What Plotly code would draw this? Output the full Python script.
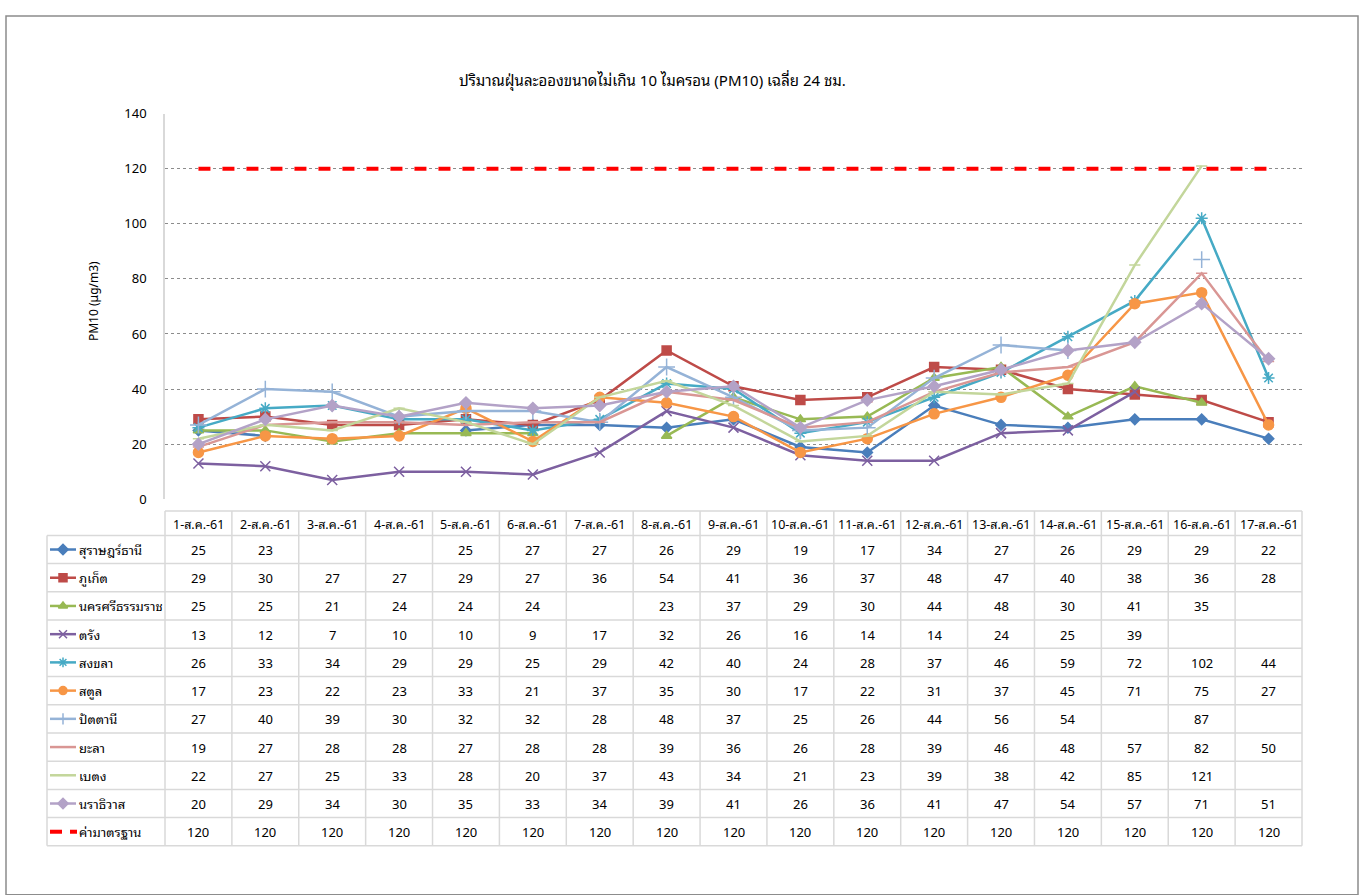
import plotly.graph_objects as go

days = ["1-ส.ค.-61", "2-ส.ค.-61", "3-ส.ค.-61", "4-ส.ค.-61", "5-ส.ค.-61", "6-ส.ค.-61",
        "7-ส.ค.-61", "8-ส.ค.-61", "9-ส.ค.-61", "10-ส.ค.-61", "11-ส.ค.-61", "12-ส.ค.-61",
        "13-ส.ค.-61", "14-ส.ค.-61", "15-ส.ค.-61", "16-ส.ค.-61", "17-ส.ค.-61"]

surat = [25, 23, None, None, 25, 27, 27, 26, 29, 19, 17, 34, 27, 26, 29, 29, 22]
phuket = [29, 30, 27, 27, 29, 27, 36, 54, 41, 36, 37, 48, 47, 40, 38, 36, 28]
nakhon = [25, 25, 21, 24, 24, 24, None, 23, 37, 29, 30, 44, 48, 30, 41, 35, None]
trang = [13, 12, 7, 10, 10, 9, 17, 32, 26, 16, 14, 14, 24, 25, 39, None, None]
songkhla = [26, 33, 34, 29, 29, 25, 29, 42, 40, 24, 28, 37, 46, 59, 72, 102, 44]
satun = [17, 23, 22, 23, 33, 21, 37, 35, 30, 17, 22, 31, 37, 45, 71, 75, 27]
pattani = [27, 40, 39, 30, 32, 32, 28, 48, 37, 25, 26, 44, 56, 54, None, 87, None]
yala = [19, 27, 28, 28, 27, 28, 28, 39, 36, 26, 28, 39, 46, 48, 57, 82, 50]
betong = [22, 27, 25, 33, 28, 20, 37, 43, 34, 21, 23, 39, 38, 42, 85, 121, None]
narathiwat = [20, 29, 34, 30, 35, 33, 34, 39, 41, 26, 36, 41, 47, 54, 57, 71, 51]
standard = [120] * 17

names = ["สุราษฎร์ธานี", "ภูเก็ต", "นครศรีธรรมราช", "ตรัง", "สงขลา", "สตูล",
         "ปัตตานี", "ยะลา", "เบตง", "นราธิวาส", "ค่ามาตรฐาน"]
series = [surat, phuket, nakhon, trang, songkhla, satun, pattani, yala, betong, narathiwat, standard]

colors = ["#4A7EBB", "#BE4B48", "#98B954", "#7D60A0", "#46AAC5", "#F79646",
          "#95B3D7", "#D99694", "#C3D69B", "#B3A2C7", "#FF0000"]
symbols = ["diamond", "square", "triangle-up", "x-thin-open", "asterisk-open", "circle",
           "cross-thin-open", "line-ew-open", "line-ew-open", "diamond", None]
msizes = [8, 9, 9, 10, 10, 10, 12, 8, 8, 9, 0]

W, H = 1365, 895
FONT = ("Tahoma, 'Noto Sans Thai Looped', 'Noto Serif Thai', 'Noto Sans Thai', "
        "'DejaVu Sans', 'Noto Sans', sans-serif")

# layout geometry (pixels)
PL, PR, PT, PB = 165, 1302, 105, 500
TBL_L = 47
HDR_T = 512
ROW0 = 537
ROW_H = 28.9
NCOL = len(days)
COL_W = (PR - PL) / NCOL


def px(x):
    return x / W


def py(y):
    return 1 - y / H


fig = go.Figure()

xs = list(range(NCOL))
for name, vals, c, s, ms in zip(names, series, colors, symbols, msizes):
    if s is None:
        fig.add_trace(go.Scatter(x=xs, y=vals, mode="lines", name=name,
                                 line=dict(color=c, width=4, dash="dash"),
                                 showlegend=False))
    else:
        fig.add_trace(go.Scatter(x=xs, y=vals, mode="lines+markers", name=name,
                                 line=dict(color=c, width=2.5),
                                 marker=dict(symbol=s, size=ms, color=c,
                                             line=dict(color=c, width=1.5)),
                                 connectgaps=False, showlegend=False))

shapes = []
annotations = []


def txt(x, y, t, size=13, xanchor="center", **kw):
    d = dict(xref="paper", yref="paper", x=px(x), y=py(y), text=t, showarrow=False,
             xanchor=xanchor, yanchor="middle",
             font=dict(size=size, color="#000", family=FONT))
    d.update(kw)
    annotations.append(d)


# outer border
shapes.append(dict(type="rect", xref="paper", yref="paper", x0=px(6), x1=px(1358),
                   y0=py(905), y1=py(5), line=dict(color="#8C8C8C", width=1.5)))

grid_c = "#D9D9D9"
shapes.append(dict(type="line", xref="paper", yref="paper", x0=px(PL), x1=px(PR),
                   y0=py(HDR_T), y1=py(HDR_T), line=dict(color=grid_c, width=1.5)))
nrows = len(names)
for k in range(nrows + 1):
    yy = ROW0 + ROW_H * k
    shapes.append(dict(type="line", xref="paper", yref="paper", x0=px(TBL_L), x1=px(PR),
                       y0=py(yy), y1=py(yy), line=dict(color=grid_c, width=1.5)))
bottom = ROW0 + ROW_H * nrows
shapes.append(dict(type="line", xref="paper", yref="paper", x0=px(TBL_L), x1=px(TBL_L),
                   y0=py(ROW0), y1=py(bottom), line=dict(color=grid_c, width=1.5)))
for c in range(NCOL + 1):
    xx = PL + COL_W * c
    shapes.append(dict(type="line", xref="paper", yref="paper", x0=px(xx), x1=px(xx),
                       y0=py(HDR_T), y1=py(bottom), line=dict(color=grid_c, width=1.5)))

for c, d in enumerate(days):
    txt(PL + COL_W * (c + 0.5), (HDR_T + ROW0) / 2, d, size=12.5)

for r, (name, vals, col, s) in enumerate(zip(names, series, colors, symbols)):
    yc = ROW0 + ROW_H * (r + 0.5)
    for c, v in enumerate(vals):
        if v is None:
            continue
        txt(PL + COL_W * (c + 0.5), yc, str(v))
    txt(77, yc, name, xanchor="left")
    if s is None:
        shapes.append(dict(type="line", xref="paper", yref="paper", x0=px(50), x1=px(62),
                           y0=py(yc), y1=py(yc), line=dict(color=col, width=4)))
        shapes.append(dict(type="line", xref="paper", yref="paper", x0=px(70), x1=px(77),
                           y0=py(yc), y1=py(yc), line=dict(color=col, width=4)))
    else:
        shapes.append(dict(type="line", xref="paper", yref="paper", x0=px(50), x1=px(76),
                           y0=py(yc), y1=py(yc), line=dict(color=col, width=2.5)))
        fig.add_trace(go.Scatter(x=[63], y=[yc], mode="markers", xaxis="x2", yaxis="y2",
                                 marker=dict(symbol=s, size=8, color=col,
                                             line=dict(color=col, width=1.5)),
                                 showlegend=False, hoverinfo="skip"))

txt(652, 70, "ปริมาณฝุ่นละอองขนาดไม่เกิน 10 ไมครอน (PM10) เฉลี่ย 24 ชม.", size=15)
txt(92, 297, "PM10 (µg/m3)", size=12, textangle=-90)

fig.update_layout(
    autosize=True,
    margin=dict(l=0, r=0, t=0, b=0, pad=0),
    paper_bgcolor="white", plot_bgcolor="rgba(0,0,0,0)",
    showlegend=False,
    shapes=shapes, annotations=annotations,
    xaxis=dict(domain=[px(PL), px(PR)], range=[-0.5, NCOL - 0.5], showgrid=False,
               zeroline=False, showticklabels=False, showline=False, fixedrange=True),
    yaxis=dict(domain=[py(PB), py(PT)], range=[0, 140], dtick=20, showgrid=True,
               gridcolor="#8C8C8C", griddash="dot", gridwidth=1, zeroline=False,
               showline=True, linecolor="#D9D9D9", linewidth=1.5,
               ticklabelstandoff=14,
               tickfont=dict(size=13, color="#000", family=FONT)),
    xaxis2=dict(domain=[0, 1], range=[0, W], visible=False, anchor="y2"),
    yaxis2=dict(domain=[0, 1], range=[H, 0], visible=False, anchor="x2"),
)

fig.write_html(
    "out.html",
    config={"displayModeBar": False},
    default_width="100vw", default_height="100vh",
    post_script=("document.documentElement.style.overflow='hidden';"
                 "document.body.style.margin='0';document.body.style.overflow='hidden';"
                 "window.dispatchEvent(new Event('resize'));"),
)
